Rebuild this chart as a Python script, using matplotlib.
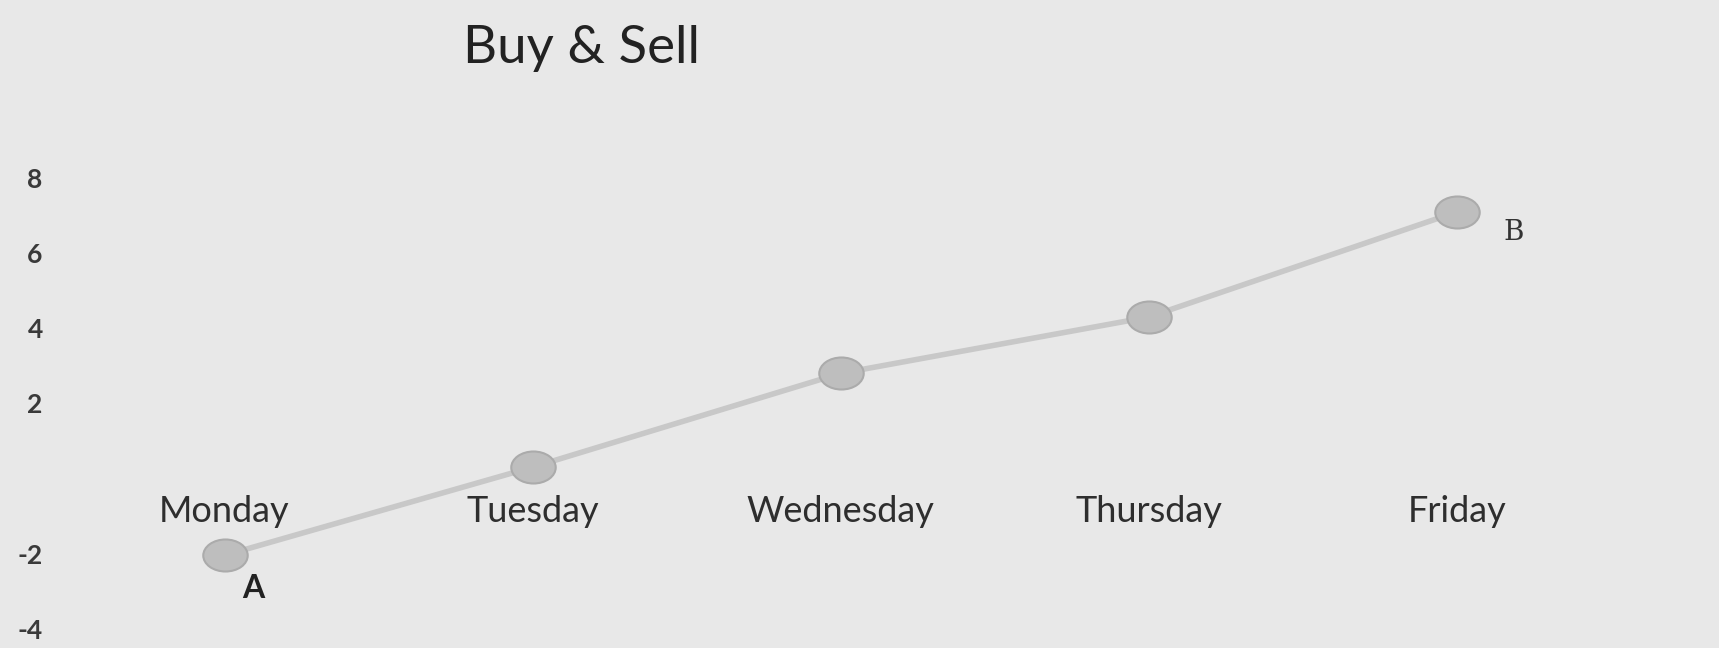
import matplotlib.pyplot as plt
from matplotlib.path import Path
import numpy as np

# values
days = ["Monday", "Tuesday", "Wednesday", "Thursday", "Friday"]
values = [-2.05, 0.3, 2.8, 4.3, 7.1]
y_ticks = [-4, -2, 2, 4, 6, 8]
y_tick_labels = ["-4", "-2", "2", "4", "6", "8"]

plt.rcParams['font.family'] = ['Lato', 'DejaVu Sans']

# slightly flattened circle, like the markers in the scan
circ = Path.unit_circle()
ellipse = Path(circ.vertices * np.array([1.0, 0.72]), circ.codes)

fig = plt.figure(figsize=(17.19, 6.48), dpi=100)
fig.patch.set_facecolor('#e8e8e8')
ax = fig.add_axes([0.041, 0.03, 0.896, 0.695])
ax.set_facecolor('#e8e8e8')

x = list(range(len(days)))
ax.plot(x, values, color='#c8c8c8', linewidth=4, zorder=2)
ax.plot(x, values, linestyle='none', marker=ellipse, markersize=32,
        markerfacecolor='#bebebe', markeredgecolor='#ababab', markeredgewidth=1.5, zorder=3)

ax.set_xlim(-0.5, 4.5)
ax.set_ylim(-4, 8)

# category labels sit on the zero line
ax.spines['bottom'].set_position(('data', 0))
for s in ax.spines.values():
    s.set_visible(False)
ax.set_xticks(x)
ax.set_xticklabels(days, fontsize=26, color='#2e2e2e')
ax.set_yticks(y_ticks)
ax.set_yticklabels(y_tick_labels, fontsize=19, color='#3a3a3a')
ax.tick_params(axis='x', length=0, pad=12)
ax.tick_params(axis='y', length=0, pad=20)
for lbl in ax.get_yticklabels():
    lbl.set_fontweight('bold')

ax.annotate("A", (x[0], values[0]), xytext=(21, -24), textcoords='offset points',
            ha='center', va='center', fontsize=23, fontweight='bold', color='#222222')
ax.annotate("B", (x[4], values[4]), xytext=(41, -15), textcoords='offset points',
            ha='center', va='center', fontsize=20, color='#333333', family='DejaVu Serif')

fig.text(0.338, 0.925, "Buy & Sell", ha='center', va='center', fontsize=38, color='#222222')

fig.savefig("out.png", dpi=100, facecolor=fig.get_facecolor())
